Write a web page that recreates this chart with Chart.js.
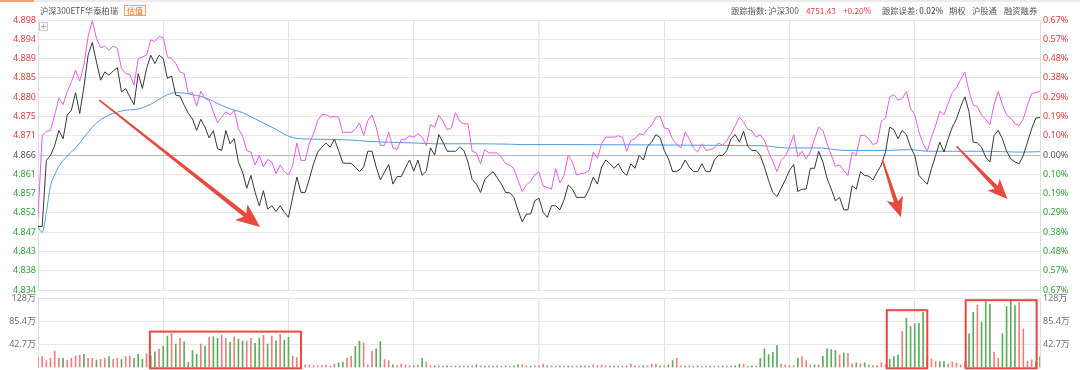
<!DOCTYPE html>
<html>
<head>
<meta charset="utf-8">
<script src="https://cdn.jsdelivr.net/npm/chart.js@4.4.1/dist/chart.umd.min.js"></script>
<style>
html,body{margin:0;padding:0;background:#fff;}
#wrap{position:relative;width:1080px;height:370px;overflow:hidden;background:#fff;font-family:'Noto Sans CJK SC','Noto Sans',sans-serif;}
#topband{position:absolute;left:0;top:0;width:1080px;height:2px;background:#ebebeb;}
#topmark{position:absolute;left:0;top:0;width:34px;height:2px;background:#f2a070;}
.hd{position:absolute;top:4px;font-size:8.3px;line-height:13px;color:#555;white-space:nowrap;}
.red{color:#e23b3b;}
#gz{position:absolute;left:124px;top:5px;width:20px;height:9px;border:1px solid #f3a46f;background:#fff6ef;color:#e8701e;font-size:8px;line-height:9px;text-align:center;}
#plus{position:absolute;left:39px;top:22px;width:7px;height:7px;border:1px solid #c9c9c9;background:#fff;color:#999;font-size:8px;line-height:7px;text-align:center;font-family:'DejaVu Sans',sans-serif;}
#cMain{position:absolute;left:0;top:0;}
#cVol{position:absolute;left:0;top:290px;}
</style>
</head>
<body>
<div id="wrap">
  <canvas id="cMain" width="1080" height="300"></canvas>
  <canvas id="cVol" width="1080" height="80"></canvas>
  <div id="topband"></div><div id="topmark"></div>
  <div class="hd" style="left:40px;">沪深300ETF华泰柏瑞</div>
  <div id="gz">估值</div>
  <div class="hd" style="left:731px;">跟踪指数: 沪深300</div>
  <div class="hd red" style="left:806px;">4751.43</div>
  <div class="hd red" style="left:843px;">+0.20%</div>
  <div class="hd" style="left:882px;">跟踪误差: <span style="color:#333;">0.02%</span></div>
  <div class="hd" style="left:949px;">期权</div>
  <div class="hd" style="left:972px;">沪股通</div>
  <div class="hd" style="left:1004px;">融资融券</div>
  <div id="plus">+</div>
</div>
<script>
// ---------- DATA ----------
// minute index 0..240 (09:30 - 15:00)
const etfPrice = [
4.8488,4.8488,4.8647,4.8659,4.8683,4.8719,4.8699,4.8756,4.8768,4.8810,
4.8760,4.8824,4.8900,4.8931,4.8884,4.8840,4.8860,4.8852,4.8862,4.8870,
4.8812,4.8820,4.8800,4.8781,4.8856,4.8820,4.8868,4.8900,4.8880,4.8900,
4.8892,4.8844,4.8850,4.8804,4.8802,4.8780,4.8760,4.8747,4.8719,4.8746,
4.8727,4.8701,4.8719,4.8675,4.8671,4.8719,4.8687,4.8699,4.8643,4.8619,
4.8580,4.8611,4.8570,4.8538,4.8574,4.8530,4.8538,4.8524,4.8538,4.8522,
4.8510,4.8558,4.8607,4.8570,4.8570,4.8603,4.8639,4.8667,4.8679,4.8689,
4.8679,4.8698,4.8671,4.8641,4.8640,4.8640,4.8631,4.8620,4.8631,4.8669,
4.8669,4.8631,4.8600,4.8619,4.8637,4.8590,4.8608,4.8608,4.8629,4.8648,
4.8621,4.8648,4.8611,4.8621,4.8677,4.8660,4.8709,4.8691,4.8669,4.8669,
4.8669,4.8679,4.8671,4.8643,4.8601,4.8590,4.8570,4.8601,4.8611,4.8620,
4.8605,4.8590,4.8570,4.8569,4.8558,4.8526,4.8499,4.8518,4.8518,4.8550,
4.8556,4.8522,4.8510,4.8538,4.8538,4.8528,4.8552,4.8588,4.8578,4.8558,
4.8558,4.8558,4.8578,4.8607,4.8590,4.8631,4.8648,4.8639,4.8628,4.8639,
4.8620,4.8611,4.8639,4.8628,4.8659,4.8648,4.8681,4.8691,4.8709,4.8702,
4.8671,4.8651,4.8620,4.8620,4.8628,4.8648,4.8631,4.8620,4.8620,4.8639,
4.8620,4.8620,4.8648,4.8659,4.8659,4.8671,4.8699,4.8709,4.8691,4.8717,
4.8681,4.8671,4.8671,4.8659,4.8631,4.8598,4.8570,4.8560,4.8580,4.8600,
4.8623,4.8637,4.8572,4.8578,4.8578,4.8628,4.8628,4.8669,4.8643,4.8604,
4.8578,4.8550,4.8558,4.8528,4.8528,4.8586,4.8578,4.8620,4.8611,4.8609,
4.8600,4.8619,4.8636,4.8667,4.8727,4.8721,4.8699,4.8719,4.8709,4.8679,
4.8659,4.8611,4.8600,4.8590,4.8627,4.8659,4.8691,4.8667,4.8699,4.8727,
4.8747,4.8776,4.8800,4.8764,4.8691,4.8689,4.8679,4.8655,4.8643,4.8707,
4.8719,4.8699,4.8669,4.8651,4.8643,4.8639,4.8659,4.8691,4.8723,4.8749,
4.8750];

const indexLine = [
4.8510,4.8707,4.8717,4.8719,4.8756,4.8797,4.8781,4.8812,4.8836,4.8864,
4.8838,4.8876,4.8945,4.8983,4.8941,4.8918,4.8922,4.8912,4.8922,4.8917,
4.8868,4.8856,4.8854,4.8828,4.8892,4.8896,4.8900,4.8937,4.8933,4.8945,
4.8942,4.8896,4.8892,4.8880,4.8860,4.8856,4.8808,4.8810,4.8778,4.8813,
4.8796,4.8792,4.8764,4.8738,4.8751,4.8764,4.8756,4.8768,4.8723,4.8706,
4.8671,4.8667,4.8636,4.8659,4.8631,4.8649,4.8643,4.8615,4.8636,4.8620,
4.8612,4.8635,4.8689,4.8647,4.8647,4.8689,4.8711,4.8743,4.8757,4.8757,
4.8751,4.8753,4.8751,4.8713,4.8715,4.8714,4.8722,4.8737,4.8707,4.8743,
4.8756,4.8727,4.8683,4.8683,4.8715,4.8677,4.8673,4.8697,4.8698,4.8706,
4.8703,4.8711,4.8703,4.8683,4.8733,4.8727,4.8756,4.8741,4.8721,4.8725,
4.8762,4.8741,4.8735,4.8735,4.8669,4.8665,4.8639,4.8673,4.8665,4.8665,
4.8665,4.8655,4.8639,4.8636,4.8627,4.8598,4.8572,4.8588,4.8597,4.8613,
4.8619,4.8585,4.8582,4.8578,4.8627,4.8593,4.8611,4.8660,4.8643,4.8612,
4.8615,4.8617,4.8623,4.8667,4.8652,4.8687,4.8703,4.8703,4.8703,4.8706,
4.8703,4.8669,4.8695,4.8699,4.8711,4.8709,4.8723,4.8731,4.8751,4.8753,
4.8725,4.8723,4.8698,4.8685,4.8677,4.8715,4.8699,4.8677,4.8667,4.8687,
4.8671,4.8673,4.8677,4.8689,4.8683,4.8695,4.8711,4.8731,4.8751,4.8739,
4.8722,4.8718,4.8703,4.8709,4.8695,4.8667,4.8644,4.8620,4.8647,4.8657,
4.8679,4.8709,4.8656,4.8669,4.8651,4.8667,4.8699,4.8727,4.8719,4.8687,
4.8660,4.8633,4.8636,4.8623,4.8611,4.8667,4.8660,4.8707,4.8707,4.8699,
4.8685,4.8689,4.8741,4.8749,4.8800,4.8805,4.8792,4.8796,4.8813,4.8772,
4.8757,4.8715,4.8687,4.8669,4.8703,4.8731,4.8765,4.8757,4.8784,4.8810,
4.8822,4.8842,4.8859,4.8813,4.8781,4.8776,4.8756,4.8746,4.8733,4.8781,
4.8813,4.8781,4.8756,4.8749,4.8735,4.8731,4.8747,4.8780,4.8808,4.8810,
4.8813];

// average price line, read at these minutes
const avgMinute = [0,1,2,3,4,5,7,9,11,13,15,17,19,21,23,25,27,29,31,33,35,37,39,41,43,45,47,49,51,53,55,57,59,61,
63,67,75,79,83,90,95,103,113,116,120,127,151,167,174,176,179,187,191,193,203,206,209,211,213,219,222,227,235,240];
const avgValue = [4.8487,4.8474,4.8522,4.8586,4.8612,4.8633,4.8657,4.8677,4.8702,4.8727,4.8745,4.8756,4.8763,4.8768,4.8769,4.8774,4.8782,4.8794,4.8805,4.8810,4.8809,4.8805,4.8801,4.8794,4.8784,4.8775,4.8768,4.8762,4.8752,4.8742,4.8732,4.8722,4.8710,4.8702,
4.8699,4.8698,4.8696,4.8693,4.8691,4.8689,4.8687,4.8687,4.8686,4.8685,4.8685,4.8685,4.8684,4.8683,4.8682,4.8680,4.8677,4.8677,4.8673,4.8671,4.8671,4.8672,4.8673,4.8671,4.8669,4.8669,4.8669,4.8669,4.8667,4.8668];

// volume per minute (万手), direction 1 = up (red), -1 = down (green)
const volume = [
18,20.1,12.7,17.0,30.6,17.0,17.0,13.9,17.0,21.4,
23.2,24.5,17.0,17.0,13.9,15.2,17.0,20.1,15.2,17.0,
15.2,20.1,21.4,17.0,25.1,15.2,25.1,22,29.4,34.4,
39.9,58.5,63.4,43.6,54.2,48.0,9.6,31.3,24.5,43.6,
39.9,56.0,57.3,54.2,59.7,54.2,46.7,57.3,52.9,49.2,
49.2,54.2,44.9,54.2,59.7,43.6,58.5,49.8,61.6,51.1,
56.0,21.4,18.3,4,5,5,3.7,3.7,3.7,5,
2.5,6.2,8.7,9.9,17.3,21,39.6,48.9,45.8,5,
30.3,34.7,48.3,14.9,13,5,3.7,6.2,5,3.7,
3.7,5,17.3,9.9,3.7,3.1,3.1,2.5,3.1,2.5,
3.1,2.5,3.1,2.5,3.1,5.6,3.1,2.5,3.1,2.5,
3.1,2.5,3.1,2.5,3.1,5.6,5.6,3.1,2.5,3.1,
3.1,6.2,3.1,3.1,2.5,3.1,3.1,2.5,3.1,2.5,
3.1,3.1,2.5,5,3.1,5,3.1,2.5,3.1,2.5,
3.1,3.1,6.2,3.1,2.5,3.1,3.1,6.2,6.2,2.5,
3.1,5,13,17.3,3.1,2.5,3.1,2.5,3.1,2.5,
3.1,2.5,3.1,2.5,3.1,2.5,3.1,3.1,6.2,6.2,
2.5,3.1,2.5,17.3,34.7,24.1,28.5,40.9,6.2,5,
3.7,3.7,17.3,20.4,13,5,5,5,21,34.7,
33.4,31.6,23.5,27.2,26.6,6.8,8.7,6.8,8.7,5,
3.7,3.7,8.7,5,15,20.4,23.5,66.9,91.6,76.1,
81.1,82.3,102.8,20,16.1,11.1,11.1,11.1,6.2,9.9,
8,5,10,62.5,102.8,116.4,84.2,122.6,118.2,28.5,
17.3,62.5,113.3,126.3,115.1,121.3,71.8,11.8,14.2,10,
20];
const volumeDir = [
1,1,1,1,1,1,-1,1,1,1,
1,-1,1,1,-1,1,1,-1,1,1,
-1,1,1,-1,-1,-1,1,-1,-1,1,
-1,-1,1,-1,1,-1,-1,-1,-1,1,
-1,1,-1,-1,1,1,-1,1,-1,-1,
1,1,-1,-1,1,-1,1,-1,1,-1,
-1,1,1,1,1,1,1,1,1,1,
1,1,-1,-1,1,1,-1,-1,1,1,
1,-1,-1,1,1,-1,1,1,1,1,
-1,1,-1,1,1,-1,1,1,-1,1,
1,-1,1,-1,1,-1,1,-1,1,1,
-1,1,-1,1,-1,-1,1,1,-1,1,
1,1,-1,1,1,-1,1,-1,1,1,
-1,1,1,1,-1,1,1,-1,1,-1,
1,-1,1,1,1,-1,1,1,1,-1,
1,-1,-1,1,1,-1,1,1,-1,1,
1,-1,1,1,-1,1,1,-1,-1,1,
1,-1,1,-1,-1,-1,-1,-1,1,1,
1,1,-1,1,1,1,-1,1,-1,-1,
-1,-1,1,-1,1,1,-1,1,-1,1,
1,1,1,1,-1,-1,-1,1,-1,-1,
-1,-1,-1,1,1,1,-1,-1,1,1,
1,1,1,-1,-1,1,-1,-1,-1,1,
1,-1,-1,-1,-1,1,1,1,1,1,
-1];

// axis ticks
const xGridMinutes = [0,30,60,90,120,150,180,210,240];
const priceTicks = [4.83352,4.83816,4.8428,4.84744,4.85208,4.85672,4.86136,4.866,4.87064,4.87528,4.87992,4.88456,4.8892,4.89384,4.89848];
const priceTickLabels = ['4.834','4.838','4.843','4.847','4.852','4.857','4.861','4.866','4.871','4.875','4.880','4.885','4.889','4.894','4.898'];
const pctTickLabels = ['0.67%','0.57%','0.48%','0.38%','0.29%','0.19%','0.10%','0.00%','0.10%','0.19%','0.29%','0.38%','0.48%','0.57%','0.67%'];
const volTicks = [42.7,85.4,128.1];
const volTickLabels = ['42.7万','85.4万','128万'];

// annotations (data units: minute, price / volume)
const arrowFrom = [[14.7,4.8792],[202.3,4.8647],[220.0,4.8681]];
const arrowTo   = [[53.2,4.8487],[206.7,4.8510],[232.2,4.8554]];
const volBoxes  = [[26.8,63.0,66.8],[203.3,213.0,106.7],[222.2,239.2,125.3]];

// ---------- RENDER ----------
Chart.defaults.font.family = "'Noto Sans','Noto Sans CJK SC',sans-serif";
Chart.defaults.font.size = 9;

const minutes = etfPrice.map((_, i) => i);
const RED = '#e23b3b', GREEN = '#2f9e35', MID = '#555';
const tickColor = (ctx) => ctx.index < 7 ? GREEN : (ctx.index === 7 ? MID : RED);

function drawArrow(ctx, x1, y1, x2, y2, headLen, headHalf) {
  const ang = Math.atan2(y2 - y1, x2 - x1);
  const len = Math.hypot(x2 - x1, y2 - y1);
  const notch = headLen * 0.25;
  ctx.save();
  ctx.translate(x1, y1);
  ctx.rotate(ang);
  ctx.fillStyle = '#e8483e';
  ctx.beginPath();
  ctx.moveTo(0, -0.8);
  ctx.lineTo(len - headLen + notch, -2.2);
  ctx.lineTo(len - headLen + notch, 2.2);
  ctx.lineTo(0, 0.8);
  ctx.closePath();
  ctx.fill();
  ctx.beginPath();
  ctx.moveTo(len, 0);
  ctx.lineTo(len - headLen, -headHalf);
  ctx.lineTo(len - headLen + notch, 0);
  ctx.lineTo(len - headLen, headHalf);
  ctx.closePath();
  ctx.fill();
  ctx.restore();
}

const arrowPlugin = {
  id: 'arrows',
  afterDatasetsDraw(chart) {
    const {ctx, scales: {x, y}} = chart;
    arrowFrom.forEach((f, k) => {
      const t = arrowTo[k];
      const big = k === 0;
      drawArrow(ctx, x.getPixelForValue(f[0]), y.getPixelForValue(f[1]),
                x.getPixelForValue(t[0]), y.getPixelForValue(t[1]), big ? 24 : 20, big ? 10 : 8.5);
    });
  }
};

const boxPlugin = {
  id: 'boxes',
  afterDatasetsDraw(chart) {
    const {ctx, scales: {x, y}} = chart;
    ctx.save();
    ctx.strokeStyle = '#e8483e';
    ctx.lineWidth = 2;
    volBoxes.forEach(b => {
      const x0 = x.getPixelForValue(b[0]), x1 = x.getPixelForValue(b[1]);
      const y0 = y.getPixelForValue(b[2]), y1 = y.getPixelForValue(-1.5);
      ctx.strokeRect(x0, y0, x1 - x0, y1 - y0);
    });
    ctx.restore();
  }
};

const xScaleCfg = {
  type: 'linear', min: 0, max: 240, offset: false,
  afterBuildTicks: s => { s.ticks = xGridMinutes.map(v => ({value: v})); },
  ticks: {display: false},
  grid: {color: ctx => (ctx.tick && ctx.tick.value === 120) ? '#e9e9e9' : '#e3e3e3', lineWidth: ctx => (ctx.tick && ctx.tick.value === 120) ? 1.6 : 1, drawTicks: false, offset: false},
  border: {display: false},
  afterFit: s => { s.height = 0; s.paddingLeft = 0; s.paddingRight = 0; }
};

new Chart(document.getElementById('cMain'), {
  type: 'line',
  data: {
    datasets: [
      {data: minutes.map(i => ({x: i, y: etfPrice[i]})), borderColor: '#363636', borderWidth: 1, pointRadius: 0, tension: 0},
      {data: minutes.map(i => ({x: i, y: indexLine[i]})), borderColor: '#e85ae8', borderWidth: 1, pointRadius: 0, tension: 0},
      {data: avgMinute.map((m, k) => ({x: m, y: avgValue[k]})), borderColor: '#4c9de2', borderWidth: 1, pointRadius: 0, cubicInterpolationMode: 'monotone'}
    ]
  },
  options: {
    responsive: false, animation: false, events: [],
    layout: {padding: {top: 20, bottom: 10, left: 0, right: 0}},
    plugins: {legend: {display: false}, tooltip: {enabled: false}},
    scales: {
      x: xScaleCfg,
      y: {
        position: 'left', min: priceTicks[0], max: priceTicks[14],
        afterBuildTicks: s => { s.ticks = priceTicks.map(v => ({value: v})); },
        ticks: {autoSkip: false, padding: 2, color: tickColor, callback: (v, i) => priceTickLabels[i]},
        grid: {color: ctx => ctx.index === 7 ? '#b9b9b9' : '#e6e6e6', drawTicks: false},
        border: {display: true, color: '#dedede'},
        afterFit: s => { s.width = 38; s.paddingTop = 0; s.paddingBottom = 0; }
      },
      y2: {
        position: 'right', min: priceTicks[0], max: priceTicks[14],
        afterBuildTicks: s => { s.ticks = priceTicks.map(v => ({value: v})); },
        ticks: {autoSkip: false, padding: 3, color: tickColor, callback: (v, i) => pctTickLabels[i]},
        grid: {display: false, drawTicks: false},
        border: {display: true, color: '#dedede'},
        afterFit: s => { s.width = 40; s.paddingTop = 0; s.paddingBottom = 0; }
      }
    }
  },
  plugins: [arrowPlugin]
});

new Chart(document.getElementById('cVol'), {
  type: 'bar',
  data: {
    datasets: [{
      data: minutes.map(i => ({x: i, y: volume[i]})),
      backgroundColor: volumeDir.map(d => d > 0 ? '#ec7f80' : '#5cab5c'),
      borderWidth: 0, barThickness: 1
    }]
  },
  options: {
    responsive: false, animation: false, events: [],
    layout: {padding: {top: 8.7, bottom: 2.5, left: 0, right: 0}},
    plugins: {legend: {display: false}, tooltip: {enabled: false}},
    scales: {
      x: xScaleCfg,
      y: {
        position: 'left', min: 0, max: 128.1,
        afterBuildTicks: s => { s.ticks = volTicks.map(v => ({value: v})); },
        ticks: {autoSkip: false, padding: 2, color: '#707070', callback: (v, i) => volTickLabels[i]},
        grid: {color: '#e6e6e6', drawTicks: false},
        border: {display: true, color: '#dedede'},
        afterFit: s => { s.width = 38; s.paddingTop = 0; s.paddingBottom = 0; }
      },
      y2: {
        position: 'right', min: 0, max: 128.1,
        afterBuildTicks: s => { s.ticks = volTicks.map(v => ({value: v})); },
        ticks: {autoSkip: false, padding: 3, color: '#707070', callback: (v, i) => volTickLabels[i]},
        grid: {display: false, drawTicks: false},
        border: {display: true, color: '#dedede'},
        afterFit: s => { s.width = 40; s.paddingTop = 0; s.paddingBottom = 0; }
      }
    }
  },
  plugins: [boxPlugin]
});
</script>
</body>
</html>
